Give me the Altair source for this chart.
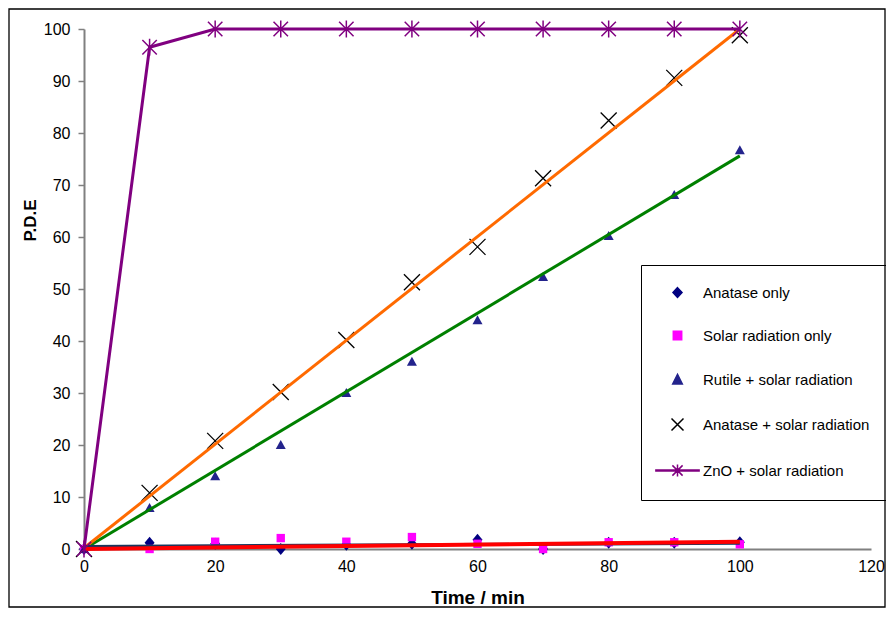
import altair as alt
import pandas as pd

# ---- data ----
time = [0, 10, 20, 30, 40, 50, 60, 70, 80, 90, 100]
anatase_only = [0, 1.2, 1.0, 0.0, 0.8, 1.0, 1.8, 0.0, 1.2, 1.2, 1.3]
solar_only = [0, 0.0, 1.4, 2.1, 1.4, 2.3, 1.0, 0.0, 1.3, 1.3, 0.9]
rutile_solar = [0, 7.9, 14.0, 20.0, 30.0, 36.0, 44.0, 52.3, 60.2, 68.1, 76.7]
anatase_solar = [0, 10.8, 20.8, 30.2, 40.2, 51.3, 58.1, 71.3, 82.4, 90.6, 98.8]
zno_solar = [0, 96.5, 100, 100, 100, 100, 100, 100, 100, 100, 100]

# linear trend lines (end points)
trend_time = [0, 100]
trend_anatase_only = [0.5, 1.1]
trend_solar_only = [0.0, 1.4]
trend_rutile_solar = [0.0, 75.6]
trend_anatase_solar = [0.2, 100.0]

series_names = [
    "Anatase only",
    "Solar radiation only",
    "Rutile + solar radiation",
    "Anatase + solar radiation",
    "ZnO + solar radiation",
]
x_ticks = [0, 20, 40, 60, 80, 100, 120]
y_ticks = [0, 10, 20, 30, 40, 50, 60, 70, 80, 90, 100]

FONT = "Liberation Sans"

# ---- marker paths ----
DIAMOND = "M0,-1.2L1,0L0,1.2L-1,0Z"
TRIANGLE = "M0,-1L1,0.8L-1,0.8Z"
XMARK = "M-1,-1L1,1M-1,1L1,-1"
STAR = "M0,-1L0,1M-0.85,-0.85L0.85,0.85M-0.85,0.85L0.85,-0.85"

# legend symbols (unit = 6 px)
LEG_DIAMOND = "M0,-0.8L0.75,0L0,0.8L-0.75,0Z"
LEG_SQUARE = "M-0.7,-0.7L0.7,-0.7L0.7,0.7L-0.7,0.7Z"
LEG_TRIANGLE = "M0,-0.85L0.8,0.75L-0.8,0.75Z"
LEG_X = "M-1,-1L1,1M-1,1L1,-1"
LEG_ZNO = ("M-3.6,-0.08L3.6,-0.08L3.6,0.08L-3.6,0.08Z"
           "M0,-1L0,1M-0.85,-0.85L0.85,0.85M-0.85,0.85L0.85,-0.85")

leg_fill = ["#000080", "#FF00FF", "#23238C", "transparent", "#800080"]
leg_stroke = ["#000080", "#FF00FF", "#23238C", "#000000", "#800080"]
leg_shape = [LEG_DIAMOND, LEG_SQUARE, LEG_TRIANGLE, LEG_X, LEG_ZNO]


def frame(values):
    return pd.DataFrame({"time": time, "value": values})


def tframe(values):
    return pd.DataFrame({"time": trend_time, "value": values})


x_axis = alt.Axis(
    values=x_ticks, title="Time / min", grid=False, ticks=False, labelFlush=False,
    domainColor="#808080", domainWidth=2, labelFontSize=16, labelFont=FONT,
    labelColor="black", labelPadding=9, titleFont=FONT, titleFontSize=19,
    titleFontWeight="bold", titleColor="black", titlePadding=14,
)
y_axis = alt.Axis(
    values=y_ticks, title="P.D.E", grid=False, tickSize=6, tickColor="#808080",
    tickWidth=1.5, domainColor="#808080", domainWidth=2, labelFontSize=16,
    labelFont=FONT, labelColor="black", labelPadding=8, labelFlush=False,
    titleFont=FONT, titleFontSize=17, titleFontWeight="bold", titleColor="black",
    titleX=-54, titleY=191, titleAngle=270, titleAlign="center",
    titleBaseline="middle",
)

X = alt.X("time:Q", scale=alt.Scale(domain=[0, 120], nice=False), axis=x_axis)
Y = alt.Y("value:Q", scale=alt.Scale(domain=[0, 100], nice=False), axis=y_axis)

legend = alt.Legend(
    title=None, orient="none", legendX=557, legendY=236, padding=20,
    symbolOffset=9, labelOffset=18, rowPadding=27, symbolSize=144,
    symbolStrokeWidth=1.5, symbolOpacity=1, labelFontSize=15, labelFont=FONT,
    labelColor="black", labelLimit=400, strokeColor="black",
)

# hidden layer that only carries the legend (points fall outside and are clipped)
legend_df = pd.DataFrame({"time": [-10] * 5, "value": [0] * 5, "series": series_names})
legend_layer = alt.Chart(legend_df).mark_point(clip=True, size=144, strokeWidth=1.5, opacity=1).encode(
    x=X, y=Y,
    fill=alt.Fill("series:N", scale=alt.Scale(domain=series_names, range=leg_fill), legend=legend),
    stroke=alt.Stroke("series:N", scale=alt.Scale(domain=series_names, range=leg_stroke), legend=legend),
    shape=alt.Shape("series:N", scale=alt.Scale(domain=series_names, range=leg_shape), legend=legend),
)

diamonds = alt.Chart(frame(anatase_only)).mark_point(
    shape=DIAMOND, filled=True, color="#000080", size=100, opacity=1).encode(x=X, y=Y)
squares = alt.Chart(frame(solar_only)).mark_point(
    shape="square", filled=True, color="#FF00FF", size=70, opacity=1).encode(x=X, y=Y)
triangles = alt.Chart(frame(rutile_solar)).mark_point(
    shape=TRIANGLE, filled=True, color="#23238C", size=100, opacity=1).encode(x=X, y=Y)
crosses = alt.Chart(frame(anatase_solar)).mark_point(
    shape=XMARK, filled=False, color="black", size=256, strokeWidth=1.3, opacity=1).encode(x=X, y=Y)

t_green = alt.Chart(tframe(trend_rutile_solar)).mark_line(color="#008000", strokeWidth=3).encode(x=X, y=Y)
t_orange = alt.Chart(tframe(trend_anatase_solar)).mark_line(color="#FF6A00", strokeWidth=3).encode(x=X, y=Y)
t_navy = alt.Chart(tframe(trend_anatase_only)).mark_line(color="#17375E", strokeWidth=3).encode(x=X, y=Y)
t_red = alt.Chart(tframe(trend_solar_only)).mark_line(color="#FF0000", strokeWidth=4).encode(x=X, y=Y)

zno_line = alt.Chart(frame(zno_solar)).mark_line(color="#800080", strokeWidth=3).encode(x=X, y=Y)
zno_pts = alt.Chart(frame(zno_solar)).mark_point(
    shape=STAR, filled=False, color="#800080", size=289, strokeWidth=1.5, opacity=1).encode(x=X, y=Y)

border = alt.Chart().mark_rect(fillOpacity=0, stroke="black", strokeWidth=1.3).encode(
    x=alt.value(-75), x2=alt.value(801), y=alt.value(-20), y2=alt.value(578))

chart = alt.layer(
    legend_layer, diamonds, squares, triangles, crosses,
    t_green, t_orange, t_navy, t_red, zno_line, zno_pts, border,
).properties(
    width=787, height=520,
    autosize=alt.AutoSizeParams(type="none"),
    padding={"left": 76, "top": 21, "right": 15, "bottom": 59},
).configure_view(stroke=None)

chart.save("out.html", embed_options={"renderer": "svg", "actions": False})
